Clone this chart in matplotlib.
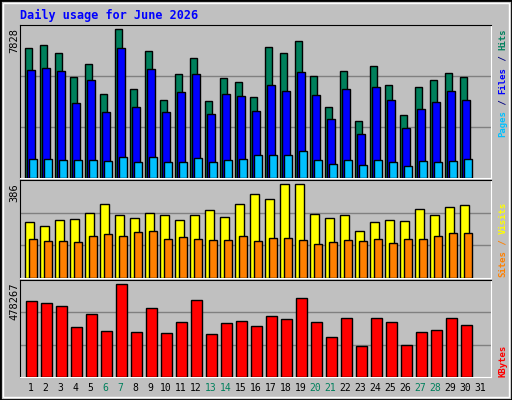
import matplotlib
matplotlib.use("Agg")
import matplotlib.pyplot as plt
from matplotlib.patches import Rectangle

# ---- data ----
days = list(range(1, 32))
hits = [6821, 6980, 6556, 5337, 6026, 4436, 7828, 4701, 6698, 4117, 5461, 6309, 4065, 5284, 5072,
        4277, 6874, 6556, 7191, 5390, 3748, 5655, 3006, 5920, 4913, 3324, 4807, 5178, 5549, 5337, 0]
files = [5708, 5814, 5655, 3959, 5178, 3482, 6821, 3747, 5761, 3482, 4542, 5496, 3376, 4436, 4330,
         3535, 4913, 4595, 5602, 4383, 3111, 4701, 2316, 4807, 4118, 2634, 3641, 4012, 4595, 4118, 0]
pages = [991, 991, 938, 938, 938, 885, 1097, 832, 1097, 832, 832, 1044, 832, 938, 991,
         1203, 1203, 1203, 1415, 938, 726, 938, 673, 938, 832, 620, 885, 832, 885, 991, 0]
visits = [231, 214, 239, 243, 269, 306, 260, 248, 269, 260, 239, 260, 281, 252, 306,
          344, 323, 386, 386, 264, 248, 260, 193, 231, 239, 235, 285, 260, 290, 302, 0]
sites = [159, 151, 151, 147, 172, 180, 172, 189, 193, 159, 168, 159, 155, 155, 172,
         151, 164, 164, 155, 138, 147, 155, 151, 159, 143, 159, 159, 172, 185, 185, 0]
kbytes = [388944, 378432, 367920, 257544, 325872, 236520, 478267, 231264, 357408, 226008,
          283824, 394200, 220752, 278568, 289080, 262800, 315360, 299592, 404712, 283824,
          204984, 304848, 157680, 304848, 283824, 162936, 231264, 241776, 304848, 268056, 0]
weekends = {6, 7, 13, 14, 20, 21, 27, 28}

C_HITS, C_FILES, C_PAGES = "#00805C", "#0000FF", "#00C0FF"
C_VISITS, C_SITES, C_KB = "#FFFF00", "#FF8000", "#FF0000"
BG = "#C0C0C0"
W, H = 512, 400
MONO = "DejaVu Sans Mono"

fig = plt.figure(figsize=(W / 100, H / 100), dpi=100)
fig.patch.set_facecolor(BG)
fig.add_artist(Rectangle((0, 0), 1, 1, transform=fig.transFigure, fill=False,
                         edgecolor="black", lw=2))
fig.add_artist(Rectangle((3 / W, 3 / H), 1 - 6 / W, 1 - 6 / H, transform=fig.transFigure,
                         fill=False, edgecolor="white", lw=1))


def panel(top, bottom):
    ax = fig.add_axes([20 / W, 1 - bottom / H, 471 / W, (bottom - top) / H])
    ax.set_facecolor(BG)
    ax.set_xlim(20, 491)
    ax.set_xticks([])
    ax.set_yticks([])
    for side in ("left", "top"):
        ax.spines[side].set_color("black")
    for side in ("right", "bottom"):
        ax.spines[side].set_color("white")
    return ax


def xs(offset):
    return [25.3 + 15 * (d - 1) + offset for d in days]


def bars(ax, offset, width, vals, color):
    x = [a for a, v in zip(xs(offset), vals) if v > 0]
    v = [b for b in vals if b > 0]
    ax.bar(x, v, width=width, align="edge", color=color, edgecolor="black", lw=1, zorder=3)


def grid(ax, ymax):
    ax.set_ylim(0, ymax)
    for f in (1 / 3, 2 / 3):
        ax.axhline(ymax * f, color="#808080", lw=1, zorder=1)


# top: hits / files / pages
ax1 = panel(25, 178)
grid(ax1, max(hits) * 152 / 147.7)
bars(ax1, 0, 7, hits, C_HITS)
bars(ax1, 2, 7.3, files, C_FILES)
bars(ax1, 4, 7.3, pages, C_PAGES)

# middle: visits / sites
ax2 = panel(180, 278)
grid(ax2, max(visits) * 96 / 92)
bars(ax2, 0, 8.3, visits, C_VISITS)
bars(ax2, 4, 7.3, sites, C_SITES)

# bottom: kbytes
ax3 = panel(280, 377)
grid(ax3, max(kbytes) * 95 / 91)
bars(ax3, 1, 10.3, kbytes, C_KB)

for d, x in zip(days, xs(5)):
    fig.text(x / W, 1 - 388 / H, str(d), ha="center", va="center", fontsize=7, family=MONO,
             color=C_HITS if d in weekends else "black")

fig.text(20 / W, 1 - 15 / H, "Daily usage for June 2026", ha="left", va="center",
         fontsize=8.5, fontweight="bold", family=MONO, color="#0000FF")

for label, ytop in [(str(max(hits)), 28), (str(max(visits)), 183), (str(max(kbytes)), 283)]:
    fig.text(14 / W, 1 - ytop / H, label, rotation=90, ha="center", va="top", fontsize=7.5,
             family=MONO, color="black")

FS = 6.5
ADV = 0.602 * FS * 100 / 72  # mono advance in pixels


# right-side legends, reading bottom to top
def legend(parts, ybottom):
    y = ybottom
    for txt, col in parts:
        fig.text(503 / W, 1 - y / H, txt, rotation=90, ha="center", va="bottom",
                 fontsize=FS, fontweight="bold", family=MONO, color=col)
        y -= len(txt) * ADV


legend([("Pages", C_PAGES), (" / ", "#000080"), ("Files", C_FILES), (" / ", "#000080"),
        ("Hits", C_HITS)], 137)
legend([("Sites", C_SITES), (" / ", C_SITES), ("Visits", C_VISITS)], 277)
legend([("KBytes", C_KB)], 377)

fig.savefig("out.png", dpi=100, facecolor=BG)
